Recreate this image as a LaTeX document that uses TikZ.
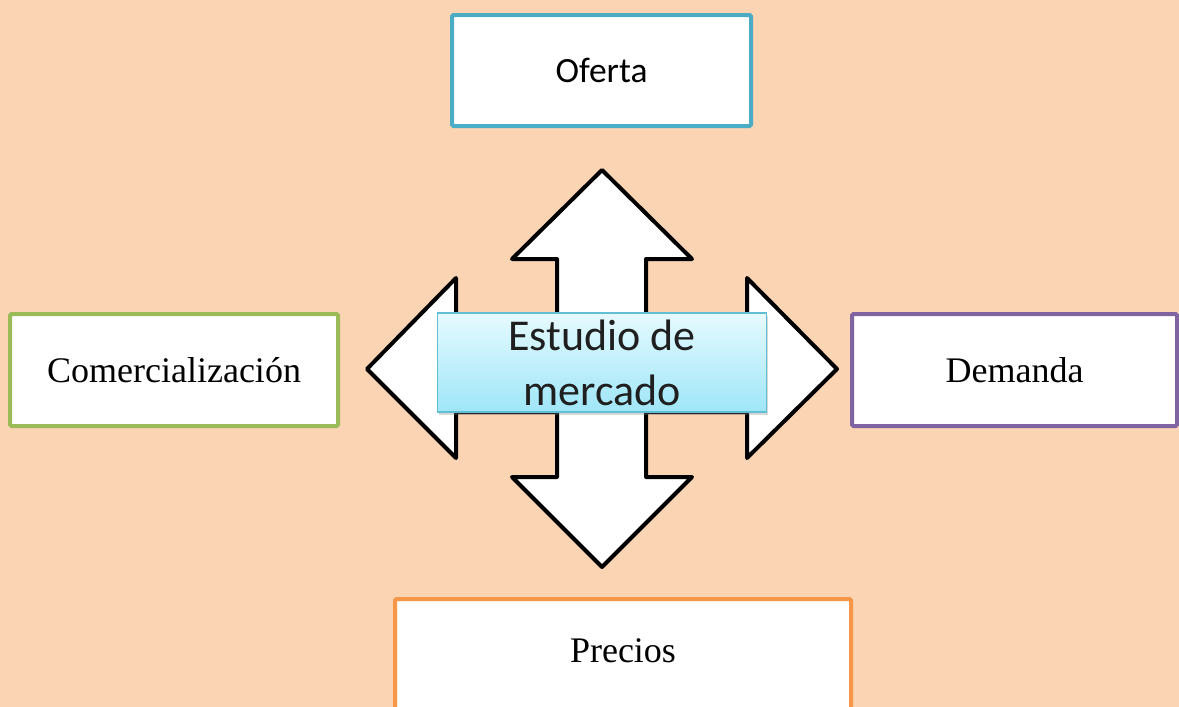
\documentclass[tikz,border=0pt]{standalone}
\usepackage{fontspec}
\setmainfont{Liberation Serif}
\newfontfamily\calib{Carlito}
\usetikzlibrary{shadows}
\definecolor{bgpeach}{HTML}{FBD4B4}
\definecolor{cofer}{HTML}{4BACC6}
\definecolor{ccomer}{HTML}{9BBB59}
\definecolor{cdem}{HTML}{8064A2}
\definecolor{cprec}{HTML}{F79646}
\definecolor{ctop}{HTML}{E6FAFF}
\definecolor{cbot}{HTML}{9FE6F8}
\definecolor{cedge}{HTML}{62BFD3}
\begin{document}
\begin{tikzpicture}[x=1pt,y=-1pt,
  topicbox/.style={draw, line width=4pt, fill=white, rounded corners=1.5pt, inner sep=0pt},
  seriflbl/.style={font=\fontsize{36}{40}\selectfont, text=black},
  crossarrow/.style={draw=black, line width=4pt, fill=white, line join=round},
  centerbox/.style={draw=cedge, line width=1.2pt, top color=ctop, bottom color=cbot,
     inner sep=0pt, minimum width=329pt, minimum height=99pt, align=center,
     font=\calib\fontsize{44}{55}\selectfont, text=black!88,
     drop shadow={shadow xshift=1.5pt, shadow yshift=-3pt, opacity=0.3}}]
\useasboundingbox (0,0) rectangle (1179,707);
\fill[bgpeach] (0,0) rectangle (1179,707);

% outer boxes
\node[topicbox, draw=cofer, minimum width=299pt, minimum height=111pt,
      font=\calib\fontsize{35.5}{40}\selectfont] (oferta) at (601.5,70.5) {Oferta};
\node[topicbox, draw=ccomer, minimum width=328pt, minimum height=112pt, seriflbl] (comer) at (174,370) {Comercialización};
\node[topicbox, draw=cdem, minimum width=325pt, minimum height=112pt, seriflbl] (demanda) at (1014.5,370) {Demanda};
\node[topicbox, draw=cprec, minimum width=456pt, minimum height=140pt, anchor=north] (precios) at (623,597) {};
\node[seriflbl] (preciostxt) at (623,651) {Precios};

% four-way arrow
\draw[crossarrow] (602,170) -- (692,259) -- (646,259) -- (646,326) -- (747,326) -- (747,278)
  -- (837,369) -- (747,458) -- (747,412) -- (646,412) -- (646,477) -- (692,477)
  -- (602,567) -- (512,477) -- (557,477) -- (557,412) -- (456,412) -- (456,458)
  -- (367,369) -- (456,278) -- (456,326) -- (557,326) -- (557,259) -- (512,259) -- cycle;

% center box
\node[centerbox] (estudio) at (602,362.5) {Estudio de\\mercado};
\end{tikzpicture}
\end{document}
